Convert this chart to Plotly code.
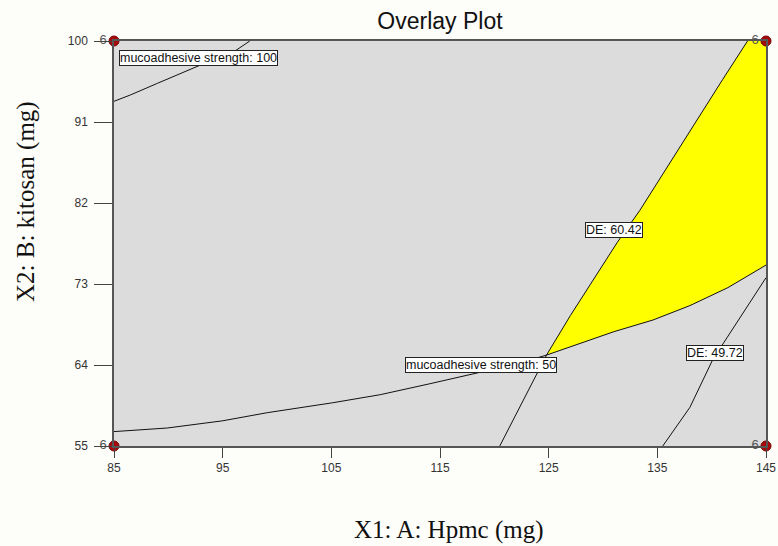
import plotly.graph_objects as go

# ---- data ----
x_ticks = [85, 95, 105, 115, 125, 135, 145]
y_ticks = [55, 64, 73, 82, 91, 100]

ms100_x = [85, 86.5, 89.0, 92.9, 95.9, 97.5]
ms100_y = [93.3, 94.0, 95.3, 97.3, 98.7, 100]

ms50_x = [85, 89.9, 95.0, 99.1, 105.1, 109.5, 114.0, 118.9, 122.0, 124.8, 128.0, 131.0, 134.6, 138.0, 141.5, 145]
ms50_y = [56.6, 57.0, 57.8, 58.7, 59.8, 60.7, 61.9, 63.2, 64.1, 65.1, 66.4, 67.7, 69.0, 70.6, 72.6, 75.1]

de60_x = [120.5, 122.7, 124.8, 127.0, 129.1, 131.3, 133.4, 136.0, 138.6, 141.0, 143.3]
de60_y = [55.0, 60.1, 65.1, 69.5, 73.4, 77.6, 81.2, 86.2, 91.2, 95.7, 100.0]

de49_x = [135.5, 138.0, 140.1, 142.5, 145]
de49_y = [55.0, 59.3, 64.6, 69.0, 73.7]

design_x = [85, 85, 145, 145]
design_y = [55, 100, 55, 100]
design_n = ["6", "6", "6", "6"]

labels_text = ["mucoadhesive strength: 100", "DE: 60.42", "mucoadhesive strength: 50", "DE: 49.72"]
labels_x = [92.8, 131.0, 118.8, 140.3]
labels_y = [98.1, 79.0, 64.0, 65.3]

x_range = [85, 145]
y_range = [55, 100]

# ---- build figure ----
fig = go.Figure()

# yellow feasible region: DE 60.42 curve (from intersection up), top edge, right edge, ms50 curve back
i_de = 2  # de60 index at intersection
i_ms = 9  # ms50 index at intersection
poly_x = de60_x[i_de:] + [x_range[1], x_range[1]] + ms50_x[i_ms:][::-1]
poly_y = de60_y[i_de:] + [y_range[1], ms50_y[-1]] + ms50_y[i_ms:][::-1]
fig.add_trace(go.Scatter(x=poly_x, y=poly_y, mode="lines", fill="toself",
                         fillcolor="#ffff00", line=dict(width=0), hoverinfo="skip", showlegend=False))

for xs, ys in [(ms100_x, ms100_y), (ms50_x, ms50_y), (de60_x, de60_y), (de49_x, de49_y)]:
    fig.add_trace(go.Scatter(x=xs, y=ys, mode="lines", line=dict(color="#111111", width=1),
                             hoverinfo="skip", showlegend=False))

fig.add_trace(go.Scatter(x=design_x, y=design_y, mode="markers+text", text=design_n,
                         textposition="middle left",
                         textfont=dict(family="Liberation Sans, Arial", size=13, color="#555555"),
                         marker=dict(size=10, color="#a50d0d", line=dict(color="#7a0000", width=1)),
                         cliponaxis=False, showlegend=False, hoverinfo="skip"))

for t, lx, ly in zip(labels_text, labels_x, labels_y):
    fig.add_annotation(x=lx, y=ly, text=t, showarrow=False,
                       font=dict(family="Liberation Sans, Arial", size=12.5, color="#111111"),
                       bgcolor="#ffffff", bordercolor="#222222", borderwidth=1, borderpad=0)

axis_common = dict(showgrid=False, zeroline=False, showline=True, linecolor="#555555",
                   linewidth=1.5, mirror=True, ticks="outside", tickcolor="#444444",
                   automargin=False,
                   tickfont=dict(family="Liberation Sans, Arial", size=12, color="#333333"))

fig.update_xaxes(range=x_range, tickvals=x_ticks, ticklen=10, **axis_common)
fig.update_yaxes(range=y_range, tickvals=y_ticks, ticklen=18, ticklabelstandoff=4, **axis_common)

# axis titles placed as annotations
fig.add_annotation(x=(449 - 114) / 652, y=(446 - 530) / 405, xref="paper", yref="paper",
                   text="X1: A: Hpmc (mg)", showarrow=False, xanchor="center", yanchor="middle",
                   font=dict(family="Liberation Serif, Times New Roman", size=25, color="#111111"))
fig.add_annotation(x=(26 - 114) / 652, y=(446 - 202) / 405, xref="paper", yref="paper",
                   text="X2: B: kitosan (mg)", showarrow=False, textangle=-90,
                   xanchor="center", yanchor="middle",
                   font=dict(family="Liberation Serif, Times New Roman", size=25, color="#111111"))

fig.update_layout(
    width=778, height=546,
    margin=dict(l=114, r=12, t=41, b=100),
    paper_bgcolor="#fdfdf9",
    plot_bgcolor="#dcdcdc",
    title=dict(text="Overlay Plot", x=0.5, xref="paper", y=1 - 21 / 546, yref="container",
               yanchor="middle", xanchor="center",
               font=dict(family="Liberation Sans, Arial", size=23, color="#111111")),
)

fig.write_html("out.html")
